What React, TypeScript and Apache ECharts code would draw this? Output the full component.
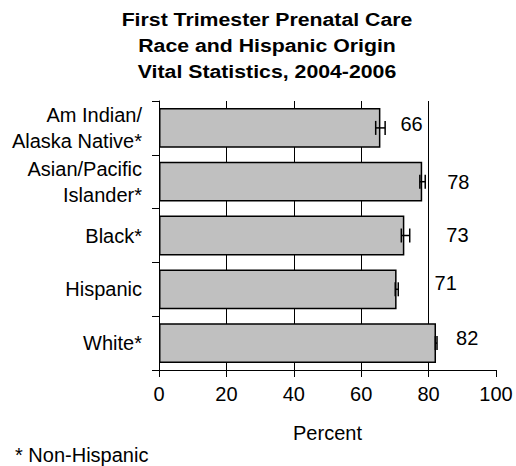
import React, { useEffect, useRef } from "react";
import * as echarts from "echarts";

const categories = [
  "Am Indian/\nAlaska Native*",
  "Asian/Pacific\nIslander*",
  "Black*",
  "Hispanic",
  "White*",
];
const percentValues = [65.7, 78.1, 72.8, 70.5, 82.2];
const ciLow = [64.3, 77.4, 71.9, 70.1, 82.0];
const ciHigh = [67.1, 79.0, 74.4, 71.0, 82.5];
const xTicks = [0, 20, 40, 60, 80, 100];

const titleLines = [
  "First Trimester Prenatal Care",
  "Race and Hispanic Origin",
  "Vital Statistics, 2004-2006",
];
const footnote = "* Non-Hispanic";

// label placement tweaks (style only)
const labelOffsets: [number, number][] = [
  [20, -4],
  [25, 0],
  [42, -1],
  [38, -6],
  [20, -5],
];

const FONT = "'Liberation Sans', Arial, Helvetica, sans-serif";

export default function App() {
  const ref = useRef<HTMLDivElement>(null);
  useEffect(() => {
    document.body.style.margin = "0";
    if (!ref.current) return;
    const chart = echarts.init(ref.current, null, { renderer: "svg" });
    const option: any = {
      animation: false,
      backgroundColor: "#ffffff",
      textStyle: { fontFamily: FONT },
      grid: { left: 159, right: 20, top: 101, bottom: 96, containLabel: false },
      graphic: [
        {
          type: "text",
          x: 267,
          y: 6,
          scaleX: 1.12,
          style: {
            text: titleLines.join("\n"),
            fontFamily: FONT,
            fontWeight: "bold",
            fontSize: 19,
            lineHeight: 26,
            textAlign: "center",
            fill: "#000",
          },
        },
        {
          type: "text",
          x: 15,
          y: 445,
          style: {
            text: footnote,
            fontFamily: FONT,
            fontSize: 20,
            fill: "#000",
          },
        },
      ],
      xAxis: {
        type: "value",
        min: xTicks[0],
        max: xTicks[xTicks.length - 1],
        interval: 20,
        name: "Percent",
        nameLocation: "middle",
        nameGap: 53,
        nameTextStyle: { fontFamily: FONT, fontSize: 20, color: "#000" },
        axisLine: { show: true, lineStyle: { color: "#000", width: 1 } },
        axisTick: { show: true, length: 7, lineStyle: { color: "#000" } },
        axisLabel: { fontFamily: FONT, fontSize: 20, color: "#000", margin: 14 },
        splitLine: {
          show: true,
          showMinLine: false,
          showMaxLine: false,
          lineStyle: { color: "#000", width: 1 },
        },
      },
      yAxis: {
        type: "category",
        data: categories,
        inverse: true,
        axisLine: { show: true, lineStyle: { color: "#000", width: 1 } },
        axisTick: { show: true, length: 7, lineStyle: { color: "#000" } },
        axisLabel: {
          fontFamily: FONT,
          fontSize: 20,
          lineHeight: 26,
          color: "#000",
          margin: 17,
          align: "right",
        },
      },
      series: [
        {
          type: "bar",
          data: percentValues.map((v, i) => ({
            value: v,
            label: { offset: labelOffsets[i] },
          })),
          barCategoryGap: "26%",
          itemStyle: { color: "#c0c0c0", borderColor: "#000", borderWidth: 1.5 },
          label: {
            show: true,
            position: "right",
            distance: 0,
            fontFamily: FONT,
            fontSize: 20,
            color: "#000",
            formatter: (p: any) => String(Math.round(p.value)),
          },
          z: 2,
        },
        {
          type: "custom",
          z: 5,
          data: categories.map((_, i) => [i, ciLow[i], ciHigh[i]]),
          renderItem: (params: any, api: any) => {
            const idx = api.value(0);
            const lo = api.coord([api.value(1), idx]);
            const hi = api.coord([api.value(2), idx]);
            const h = 7;
            const st = { stroke: "#000", lineWidth: 1.5 };
            return {
              type: "group",
              children: [
                { type: "line", shape: { x1: lo[0], y1: lo[1], x2: hi[0], y2: hi[1] }, style: st },
                { type: "line", shape: { x1: lo[0], y1: lo[1] - h, x2: lo[0], y2: lo[1] + h }, style: st },
                { type: "line", shape: { x1: hi[0], y1: hi[1] - h, x2: hi[0], y2: hi[1] + h }, style: st },
              ],
            };
          },
          encode: { x: [1, 2], y: 0 },
        },
      ],
    };
    chart.setOption(option);
    return () => chart.dispose();
  }, []);
  return <div ref={ref} style={{ width: 516, height: 466 }} />;
}
